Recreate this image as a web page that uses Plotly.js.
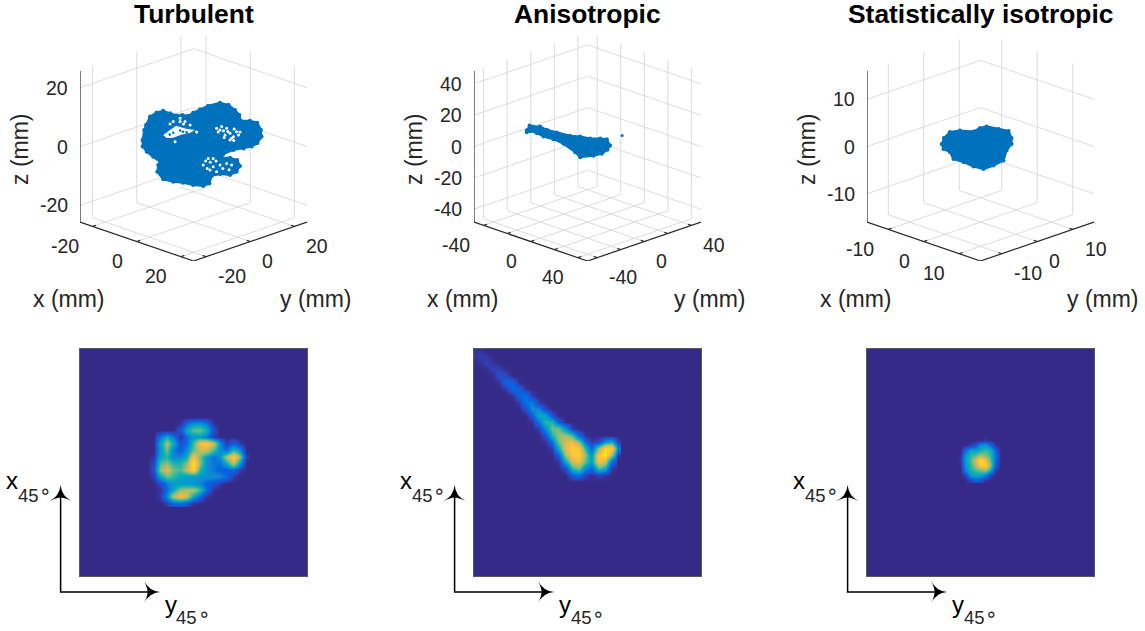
<!DOCTYPE html>
<html><head><meta charset="utf-8"><script src="https://cdn.plot.ly/plotly-3.0.1.min.js"></script>
<style>html,body{margin:0;padding:0;background:#fff}</style></head><body><div id="g" style="width:1145px;height:631px"></div>
<script>
// ---------- data ----------
const titles = ["Turbulent","Anisotropic","Statistically isotropic"];
const limits = [25.7,48.2,16];
const ticks3d = [[-20,0,20],[-40,-20,0,20,40],[-10,0,10]];
const labelled = [[-20,0,20],[-40,0,40],[-10,0,10]];
const zLabelled = [[-20,0,20],[-40,-20,0,20,40],[-10,0,10]];
// cloud outlines on the view plane (mm)
const turbH = [-16.3,-15.8,-15.2,-13.9,-11.8,-9.7,-7.5,-5.4,-3.5,-1.7,-0.1,2.1,4.7,8.5,11.2,13.3,14.7,15.1,18.1,20.4,21.6,21.8,20.4,18.6,16.0,12.8,9.6,9.0,11.7,14.0,14.9,13.8,11.7,8.5,5.8,5.1,3.1,-0.1,-3.3,-6.5,-9.7,-11.6,-11.3,-10.7,-12.9,-15.0,-16.3,-16.3];
const turbW = [2.1,5.3,6.9,9.6,10.9,11.4,10.6,9.9,10.1,9.8,10.8,11.9,13.0,14.0,13.3,11.7,10.1,8.3,8.2,7.6,5.3,3.1,1.0,0,-0.6,-1.1,-2.4,-3.5,-3.6,-4.3,-6.2,-8.1,-9.1,-8.8,-9.4,-11.8,-12.6,-12.3,-11.6,-11.3,-10.5,-8.1,-5.9,-4.9,-3.3,-1.7,0,2.1];
const turbHoleH = [-9.7,-7.5,-5.6,-2.4,0.4,-1.2,-3.8,-6.5,-8.6,-9.7];
const turbHoleW = [3.7,5.2,6.6,5.7,5.3,4.3,3.8,2.8,2.7,3.7];
const turbSpeckH = [-4.3,-6.5,-2.7,-1.1,7.4,10.6,12.8,8.5,11.7,14.4,10.1,12.2,13.8,9.0,11.7,4.7,6.3,3.1,6.3,8.5,10.6,12.2,5.3,7.4,-4.3,-7.5,-5.9,-3.2,1.0,9.6,11.0,13.0,7.9,9.8,12.9,14.9,3.9,5.4,7.2,9.4,4.4,11.4];
const turbSpeckW = [9.0,8.0,8.0,6.9,5.8,5.8,3.1,5.3,4.2,3.7,3.7,2.6,4.7,6.4,2.1,-3.8,-3.8,-5.9,-6.5,-5.9,-5.4,-5.9,-7.5,-8.1,8.0,7.2,1.5,7.2,4.6,5.0,4.8,5.6,4.6,2.9,1.9,4.6,-4.6,-5.0,-4.6,-7.0,-7.0,-7.4];
const turbFillH = [-6.5,-4.3,-2.2,-7.6,-3.4];
const turbFillW = [4.4,5.1,4.5,3.8,4.7];
const anisoH = [-36.4,-34.8,-32.8,-28.4,-24.4,-18.4,-10.4,-4.4,1.6,7.6,11.6,13.6,12,8.6,3.6,-4.4,-7.4,-14.4,-20.4,-26.4,-30.4,-34.4,-36.4,-36.4];
const anisoW = [9.6,12.6,12,12,10,8.4,6.4,6,4.8,4.8,4.4,0.6,-2,-4.4,-5.6,-6.4,-3.4,1.6,4.4,6,8,9.2,8.6,9.6];
const anisoOutlierH = [20.8];
const anisoOutlierW = [6.6];
const isoH = [-7.7,-7.3,-6.1,-4.1,-1.4,-0.1,1.2,3.6,5.6,6.2,6.2,5.2,4.6,2.6,0.6,-1.4,-3.4,-5.4,-6.1,-7.4,-7.7];
const isoW = [0.5,1.7,2.9,3.2,3,3.7,4,3.5,3.1,1.7,0.5,-0.8,-2.8,-3.8,-4.5,-4,-3.1,-2.5,-1.1,-0.5,0.5];
// projected densities
const turbZ = [
[0,0,0,0,0,0,0,0,0,0,0,0,0,0,0,0],
[0,0,0,0,0,.02,.2,.32,.34,.24,.02,0,0,0,0,0],
[0,0,0,0,0,.12,.38,.52,.54,.42,.1,0,0,0,0,0],
[0,0,.22,.4,.22,0,.2,.32,.32,.22,.04,0,0,0,0,0],
[0,0,.36,.64,.38,.1,.18,.48,.8,.86,.7,.3,.04,.14,.04,0],
[0,0,.32,.54,.25,.14,.3,.52,.68,.68,.48,.3,.2,.45,.3,0],
[0,.03,.36,.44,.26,.28,.38,.82,.54,.34,.2,.28,.64,.88,.58,.04],
[0,.08,.5,.58,.44,.44,.58,.95,.58,.3,.22,.2,.38,.68,.32,0],
[0,.1,.6,.75,.54,.48,.68,.9,.44,.3,.22,.14,.12,.18,.04,0],
[0,.05,.38,.54,.46,.38,.34,.34,.32,.3,.3,.28,.2,.04,0,0],
[0,0,.08,.24,.32,.32,.32,.3,.26,.16,.1,.04,0,0,0,0],
[0,0,.02,.18,.38,.6,.64,.64,.48,.2,.02,0,0,0,0,0],
[0,0,.04,.28,.66,.8,.7,.38,.18,.02,0,0,0,0,0,0],
[0,0,0,.04,.16,.18,.1,.02,0,0,0,0,0,0,0,0]];
const anisoZ = [
[.02,.02,0,0,0,0,0,0,0,0,0,0,0,0,0,0,0,0,0,0,0,0,0],
[.02,.05,.03,0,0,0,0,0,0,0,0,0,0,0,0,0,0,0,0,0,0,0,0],
[0,.02,.06,.03,0,0,0,0,0,0,0,0,0,0,0,0,0,0,0,0,0,0,0],
[0,0,.01,.06,.05,.01,0,0,0,0,0,0,0,0,0,0,0,0,0,0,0,0,0],
[0,0,0,.01,.1,.08,0,0,0,0,0,0,0,0,0,0,0,0,0,0,0,0,0],
[0,0,0,0,.02,.16,.15,.01,0,0,0,0,0,0,0,0,0,0,0,0,0,0,0],
[0,0,0,0,0,.03,.18,.16,.02,0,0,0,0,0,0,0,0,0,0,0,0,0,0],
[0,0,0,0,0,0,.02,.17,.21,.04,0,0,0,0,0,0,0,0,0,0,0,0,0],
[0,0,0,0,0,0,0,.04,.21,.24,.05,0,0,0,0,0,0,0,0,0,0,0,0],
[0,0,0,0,0,0,0,0,.09,.29,.27,.07,0,0,0,0,0,0,0,0,0,0,0],
[0,0,0,0,0,0,0,0,0,.12,.38,.35,.1,0,0,0,0,0,0,0,0,0,0],
[0,0,0,0,0,0,0,0,0,.02,.2,.46,.44,.14,0,0,0,0,0,0,0,0,0],
[0,0,0,0,0,0,0,0,0,0,.04,.3,.54,.54,.3,.04,0,0,0,0,0,0,0],
[0,0,0,0,0,0,0,0,0,0,0,.1,.42,.6,.62,.5,.18,.02,0,0,0,0,0],
[0,0,0,0,0,0,0,0,0,0,0,.02,.18,.54,.72,.78,.6,.2,.04,.08,.32,.42,.05],
[0,0,0,0,0,0,0,0,0,0,0,0,.04,.38,.74,.86,.84,.46,.16,.6,.92,.88,.25],
[0,0,0,0,0,0,0,0,0,0,0,0,0,.14,.62,.84,.87,.6,.3,.85,.98,.62,.03],
[0,0,0,0,0,0,0,0,0,0,0,0,0,.02,.38,.7,.78,.52,.34,.8,.7,.2,0],
[0,0,0,0,0,0,0,0,0,0,0,0,0,0,.08,.42,.54,.28,.16,.48,.38,.04,0],
[0,0,0,0,0,0,0,0,0,0,0,0,0,0,0,.14,.2,.06,.01,.06,.03,0,0],
[0,0,0,0,0,0,0,0,0,0,0,0,0,0,0,0,0,0,0,0,0,0,0]];
const isoZ = [
[0,0,0,0,0,.02,0,0,0],
[0,0,.04,.1,.3,.34,.2,.02,0],
[0,.18,.36,.36,.4,.48,.42,.16,0],
[0,.32,.45,.5,.62,.56,.45,.22,0],
[.02,.34,.48,.7,.95,.78,.5,.18,0],
[0,.32,.45,.62,.86,.88,.58,.14,0],
[0,.24,.42,.48,.52,.6,.38,.04,0],
[0,.05,.32,.38,.36,.25,.06,0,0],
[0,0,.06,.14,.1,.02,0,0,0]];
// ---------- styling and placement ----------
const W=1145,H=631,FONT='"Liberation Sans", Arial, sans-serif';
const BLUE='#0072bd',INK='#262626',GRID='#dcdcdc';
const boxLeft=[80,474,867], boxW=227, boxTop=32, boxBot=261;
const imgLeft=[79,473,866], imgTop=348, imgS=229;
const parula=[[0,'rgb(53,42,135)'],[.063,'rgb(50,67,186)'],[.127,'rgb(15,92,221)'],[.19,'rgb(4,108,224)'],[.254,'rgb(20,129,214)'],[.317,'rgb(6,152,209)'],[.381,'rgb(6,170,190)'],[.444,'rgb(37,180,169)'],[.508,'rgb(89,187,145)'],[.571,'rgb(136,191,118)'],[.635,'rgb(174,190,103)'],[.698,'rgb(209,187,89)'],[.762,'rgb(240,185,73)'],[.825,'rgb(254,195,55)'],[.889,'rgb(247,211,38)'],[.952,'rgb(245,235,24)'],[1,'rgb(249,251,14)']];
const S=Math.SQRT1_2, el=20*Math.PI/180, SE=Math.sin(el), CE=Math.cos(el);
const proj=(x,y,z)=>[(x+y)*S,(y-x)*S*SE+z*CE];
const px=x=>x/W, py=y=>1-y/H;
const traces=[],annotations=[],shapes=[],layout={};
function segs(list){const a=[],b=[];list.forEach(s=>{const p=proj(...s[0]),q=proj(...s[1]);a.push(p[0],q[0],null);b.push(p[1],q[1],null);});return [a,b];}
function label(text,x,y,size,extra){annotations.push(Object.assign({text,x:px(x),y:py(y),xref:'paper',yref:'paper',showarrow:false,xanchor:'center',yanchor:'middle',borderpad:0,font:{family:FONT,size,color:INK}},extra||{}));}
const clouds=[[turbH,turbW],[anisoH,anisoW],[isoH,isoW]];
titles.forEach((t,i)=>{
 const n=i+1, xa='x'+(n===1?'':n), ya='y'+(n===1?'':n), L=limits[i], tk=ticks3d[i];
 const hh=L*2*S, ww=L*(2*S*SE+CE);
 layout['xaxis'+(n===1?'':n)]={domain:[px(boxLeft[i]),px(boxLeft[i]+boxW)],range:[-hh,hh],visible:false,fixedrange:true};
 layout['yaxis'+(n===1?'':n)]={domain:[py(boxBot),py(boxTop)],range:[-ww,ww],visible:false,fixedrange:true};
 const grid=[];
 tk.forEach(v=>{
  grid.push([[v,-L,-L],[v,L,-L]],[[v,L,-L],[v,L,L]]);
  grid.push([[-L,v,-L],[L,v,-L]],[[-L,v,-L],[-L,v,L]]);
  grid.push([[-L,L,v],[L,L,v]],[[-L,-L,v],[-L,L,v]]);
 });
 let g=segs(grid);
 traces.push({type:'scatter',mode:'lines',x:g[0],y:g[1],xaxis:xa,yaxis:ya,line:{color:GRID,width:1},hoverinfo:'skip'});
 const c=clouds[i];
 traces.push({type:'scatter',mode:'lines+markers',x:c[0],y:c[1],xaxis:xa,yaxis:ya,fill:'toself',fillcolor:BLUE,line:{color:BLUE,width:2},marker:{color:BLUE,size:4},hoverinfo:'skip'});
 if(i===0){
  traces.push({type:'scatter',mode:'lines',x:turbHoleH,y:turbHoleW,xaxis:xa,yaxis:ya,fill:'toself',fillcolor:'#fff',line:{color:'#fff',width:0},hoverinfo:'skip'});
  traces.push({type:'scatter',mode:'markers',x:turbSpeckH,y:turbSpeckW,xaxis:xa,yaxis:ya,marker:{color:'#fff',size:3},hoverinfo:'skip'});
  traces.push({type:'scatter',mode:'markers',x:turbFillH,y:turbFillW,xaxis:xa,yaxis:ya,marker:{color:BLUE,size:2.6},hoverinfo:'skip'});
 }
 if(i===1) traces.push({type:'scatter',mode:'markers',x:anisoOutlierH,y:anisoOutlierW,xaxis:xa,yaxis:ya,marker:{color:BLUE,size:3},hoverinfo:'skip'});
 const t0=.06*L, axes=[[[-L,-L,-L],[-L,-L,L]],[[-L,-L,-L],[L,-L,-L]],[[L,-L,-L],[L,L,-L]]];
 tk.forEach(v=>{
  axes.push([[v,-L,-L],[v,-L+t0,-L]]);
  axes.push([[L,v,-L],[L-t0,v,-L]]);
  axes.push([[-L,-L,v],[-L-t0/2,-L-t0/2,v]]);
 });
 g=segs(axes);
 traces.push({type:'scatter',mode:'lines',x:g[0],y:g[1],xaxis:xa,yaxis:ya,line:{color:INK,width:1.2},hoverinfo:'skip'});
 const tf={family:FONT,size:19.5,color:INK};
 const mk=(v,p,anc,xs,ys)=>annotations.push({text:String(v),x:p[0],y:p[1],xref:xa,yref:ya,showarrow:false,xanchor:anc,yanchor:'middle',borderpad:0,xshift:xs,yshift:ys,font:tf});
 labelled[i].forEach(v=>{
  mk(v,proj(v,-L,-L),'right',-13,-19.5);
  mk(v,proj(L,v,-L),'left',11,-19.5);
 });
 zLabelled[i].forEach(v=>mk(v,proj(-L,-L,v),'right',-11,0));
 const b=boxLeft[i];
 label('x (mm)',b-11,299,23);
 label('y (mm)',b+236,299,23);
 label('z (mm)',b-60,149,23,{textangle:-90});
 label('<b>'+t+'</b>',b+113.5,14,26.4,{font:{family:FONT,size:26.4,color:'#000'}});
});
const maps=[[turbZ,67.63,68.7,6.667],[anisoZ,-1.33,.33,6.667],[isoZ,94,92,5]];
maps.forEach((m,i)=>{
 const n=i+4, xa='x'+n, ya='y'+n, l=imgLeft[i];
 const ax={range:[0,imgS],showgrid:false,zeroline:false,showticklabels:false,ticks:'',showline:true,mirror:true,linecolor:'#5a5a5a',linewidth:1,fixedrange:true};
 layout['xaxis'+n]=Object.assign({},ax,{domain:[px(l+1),px(l+imgS-1)],anchor:ya});
 layout['yaxis'+n]=Object.assign({},ax,{domain:[py(imgTop+imgS-1),py(imgTop+1)],range:[imgS,0],anchor:xa});
 shapes.push({type:'rect',xref:'paper',yref:'paper',x0:px(l+1),x1:px(l+imgS-1),y0:py(imgTop+1),y1:py(imgTop+imgS-1),fillcolor:'#352a87',line:{width:0},layer:'below'});
 traces.push({type:'heatmap',z:m[0],x0:m[1],dx:m[3],y0:m[2],dy:m[3],xaxis:xa,yaxis:ya,zmin:0,zmax:1,zsmooth:'best',colorscale:parula,showscale:false,hoverinfo:'skip'});
 // reference arrows
 const ox=l-18.4, oy=592, top=485, right=ox+99.5;
 const P=(a,b)=>px(a).toFixed(5)+','+py(b).toFixed(5);
 shapes.push({type:'path',xref:'paper',yref:'paper',path:'M'+P(ox,top+8)+' L'+P(ox,oy)+' L'+P(right-8,oy),line:{color:'#000',width:1.5}});
 shapes.push({type:'path',xref:'paper',yref:'paper',fillcolor:'#000',line:{width:0},path:'M'+P(ox,top)+' Q'+P(ox+1,top+11)+' '+P(ox+11,top+16)+' Q'+P(ox+4,top+12.5)+' '+P(ox,top+12.5)+' Q'+P(ox-4,top+12.5)+' '+P(ox-11,top+16)+' Q'+P(ox-1,top+11)+' '+P(ox,top)+' Z'});
 shapes.push({type:'path',xref:'paper',yref:'paper',fillcolor:'#000',line:{width:0},path:'M'+P(right,oy)+' Q'+P(right-11,oy-1)+' '+P(right-16,oy-11)+' Q'+P(right-12.5,oy-4)+' '+P(right-12.5,oy)+' Q'+P(right-12.5,oy+4)+' '+P(right-16,oy+11)+' Q'+P(right-11,oy+1)+' '+P(right,oy)+' Z'});
 const blk={font:{family:FONT,size:24,color:'#000'}}, sub={font:{family:FONT,size:18.5,color:INK}}, ring={font:{family:'"DejaVu Sans"',size:20,color:INK}};
 label('x',l-67,480,24,blk);
 label('45',l-51,495,18.5,sub);
 label('∘',l-33.5,491,20,ring);
 label('y',l+91.5,604,24,blk);
 label('45',l+108,617.5,18.5,sub);
 label('∘',l+125,614,20,ring);
});
Object.assign(layout,{width:W,height:H,margin:{l:0,r:0,t:0,b:0,pad:0},paper_bgcolor:'#fff',plot_bgcolor:'rgba(0,0,0,0)',showlegend:false,annotations,shapes,hovermode:false});
Plotly.newPlot('g',traces,layout,{staticPlot:true,displayModeBar:false});
</script></body></html>
